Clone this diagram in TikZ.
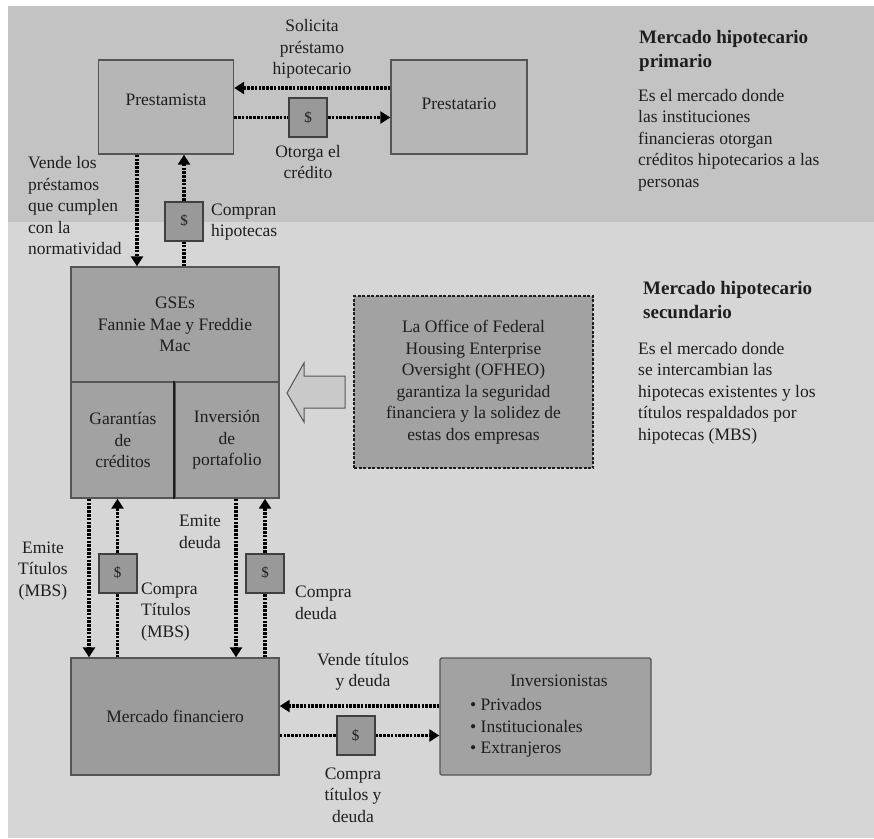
\documentclass[tikz,border=0pt]{standalone}
\usepackage{fontspec}
\setmainfont{Liberation Serif}
\usepackage{xcolor}
\usepackage{tikz}
\usetikzlibrary{arrows.meta,calc}
\definecolor{fondoa}{HTML}{C3C3C3}
\definecolor{fondob}{HTML}{D6D6D6}
\definecolor{grisclaro}{HTML}{B6B6B6}
\definecolor{grismedio}{HTML}{A2A2A2}
\definecolor{grisoscuro}{HTML}{9C9C9C}
\definecolor{grisdolar}{HTML}{999999}
\definecolor{gristrazo}{HTML}{555555}
\definecolor{tinta}{HTML}{1E1E1E}

\begin{document}
\begin{tikzpicture}[
  x=1pt, y=-1pt,
  font=\fontsize{17.5}{21.5}\selectfont,
  text=tinta,
  caja/.style={draw=gristrazo, line width=1.4pt, inner sep=0pt, align=center},
  dolar/.style={draw=tinta!85, fill=grisdolar, line width=2pt, minimum width=38pt, minimum height=39pt, inner sep=0pt, font=\fontsize{15}{18}\selectfont},
  flecha/.style={draw=black, line width=3.6pt, dash pattern=on 2.6pt off 1.2pt},
  punta/.style={-{Triangle[length=10pt,width=12pt]}},
  etiq/.style={inner sep=0pt, align=center},
  etiqizq/.style={inner sep=0pt, align=left, anchor=west},
  titulo/.style={inner sep=0pt, align=left, anchor=west, font=\fontsize{19}{24}\selectfont\bfseries}
]
  % fondos
  \useasboundingbox (0,0) rectangle (874,838);
  \fill[white] (0,0) rectangle (874,838);
  \fill[fondoa] (8,6) rectangle (874,222);
  \fill[fondob] (8,222) rectangle (874,838);

  % mercado primario
  \node[caja, fill=grisclaro, minimum width=135pt, minimum height=94pt, text depth=14pt] (prestamista) at (166,107) {Prestamista};
  \node[caja, fill=grisclaro, minimum width=136pt, minimum height=94pt, text depth=6pt] (prestatario) at (459,107) {Prestatario};
  \node[dolar] (d1) at (308,117.5) {\$};
  \node[dolar] (d2) at (184,221) {\$};
  \node[etiq] (solicita) at (312,49) {Solicita\\préstamo\\hipotecario};
  \node[etiq] (otorga) at (308,162) {Otorga el\\crédito};
  \node[etiqizq] (vende) at (28,206) {Vende los\\préstamos\\que cumplen\\con la\\normatividad};
  \node[etiqizq] (compran) at (211,222) {Compran\\hipotecas};
  \node[titulo] (tprimario) at (639,51) {Mercado hipotecario\\primario};
  \node[etiqizq] (dprimario) at (638,140) {Es el mercado donde\\las instituciones\\financieras otorgan\\créditos hipotecarios a las\\personas};

  % mercado secundario
  \node[caja, fill=grismedio, minimum width=208pt, minimum height=115pt] (gse) at (175,324.5) {GSEs\\Fannie Mae y Freddie\\Mac};
  \node[caja, fill=grismedio, minimum width=104pt, minimum height=116pt] (garantias) at (123,440) {Garantías\\de\\créditos};
  \node[caja, fill=grismedio, minimum width=104pt, minimum height=116pt] (inversion) at (227,440) {Inversión\\de\\portafolio};
  \draw[tinta, line width=1.8pt] (inversion.north west) -- (inversion.south west);
  \node[caja, fill=grismedio, draw=tinta, dash pattern=on 3pt off 1.5pt, minimum width=239pt, minimum height=172pt] (ofheo) at (473.5,382)
    {La Office of Federal\\Housing Enterprise\\Oversight (OFHEO)\\garantiza la seguridad\\financiera y la solidez de\\estas dos empresas};
  \draw[gristrazo, line width=1pt, fill=fondoa!70!fondob] (287,393) -- (304,363) -- (304,376) -- (345,376) -- (345,408) -- (304,408) -- (304,422) -- cycle;
  \node[titulo] (tsecundario) at (643,300) {Mercado hipotecario\\secundario};
  \node[etiqizq] (dsecundario) at (638,393) {Es el mercado donde\\se intercambian las\\hipotecas existentes y los\\títulos respaldados por\\hipotecas (MBS)};

  \node[caja, fill=grisoscuro, minimum width=208pt, minimum height=117pt] (mercado) at (175,716.5) {Mercado financiero};
  \node[caja, fill=grismedio, rounded corners=1.5pt, minimum width=211pt, minimum height=117pt] (inversionistas) at (545.5,716.5) {};
  \node[etiq] (invtit) at (559,681) {Inversionistas};
  \node[etiqizq] (invlista) at (470,728) {• Privados\\• Institucionales\\• Extranjeros};
  \node[dolar] (d3) at (117.5,573) {\$};
  \node[dolar] (d4) at (265,573) {\$};
  \node[dolar] (d5) at (355.5,735.5) {\$};
  \node[etiq] (emite1) at (43,571) {Emite\\Títulos\\(MBS)};
  \node[etiqizq] (compra1) at (141,612) {Compra\\Títulos\\(MBS)};
  \node[etiq] (emite2) at (200,532) {Emite\\deuda};
  \node[etiqizq] (compra2) at (295,603) {Compra\\deuda};
  \node[etiq] (vende2) at (363,672) {Vende títulos\\y deuda};
  \node[etiq] (compra3) at (353,795) {Compra\\títulos y\\deuda};

  % conectores
  \coordinate (h0) at (0,88);
  \coordinate (h1) at (0,706);
  \coordinate (v1) at (137,0);
  \coordinate (v2) at (89,0);
  \coordinate (v3) at (236,0);
  \draw[flecha, punta] (h0 -| prestatario.west) -- (h0 -| prestamista.east);
  \draw[flecha] (prestamista.east |- d1) -- (d1);
  \draw[flecha, punta] (d1) -- (d1 -| prestatario.west);
  \draw[flecha, punta] (v1 |- prestamista.south) -- (v1 |- gse.north);
  \draw[flecha] (d2 |- gse.north) -- (d2);
  \draw[flecha, punta] (d2) -- (d2 |- prestamista.south);
  \draw[flecha, punta] (v2 |- garantias.south) -- (v2 |- mercado.north);
  \draw[flecha] (d3 |- mercado.north) -- (d3);
  \draw[flecha, punta] (d3) -- (d3 |- garantias.south);
  \draw[flecha, punta] (v3 |- inversion.south) -- (v3 |- mercado.north);
  \draw[flecha] (d4 |- mercado.north) -- (d4);
  \draw[flecha, punta] (d4) -- (d4 |- inversion.south);
  \draw[flecha, punta] (h1 -| inversionistas.west) -- (h1 -| mercado.east);
  \draw[flecha] (mercado.east |- d5) -- (d5);
  \draw[flecha, punta] (d5) -- (d5 -| inversionistas.west);
\end{tikzpicture}
\end{document}
